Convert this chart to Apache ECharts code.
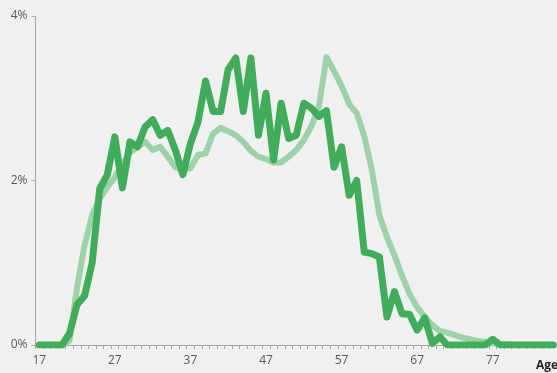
<!DOCTYPE html>
<html>
<head>
<meta charset="utf-8">
<script src="https://cdn.jsdelivr.net/npm/echarts@6/dist/echarts.min.js"></script>
<style>
  html, body { margin: 0; padding: 0; background: #f0f0f0; }
  #chart { width: 557px; height: 373px; }
</style>
</head>
<body>
<div id="chart"></div>
<script>
// Age categories 17..85
const ages = [];
for (let a = 17; a <= 85; a++) ages.push(String(a));

// Share of population by age (%), lighter reference series
const lightSeries = [
  0, 0, 0, 0, 0.05, 0.7, 1.22, 1.58, 1.78, 1.92,
  2.04, 2.2, 2.34, 2.41, 2.47, 2.37, 2.41, 2.29, 2.16, 2.13,
  2.15, 2.31, 2.33, 2.57, 2.64, 2.6, 2.55, 2.47, 2.36, 2.29,
  2.26, 2.22, 2.22, 2.29, 2.37, 2.49, 2.66, 2.9, 3.5, 3.33,
  3.15, 2.93, 2.82, 2.54, 2.13, 1.58, 1.31, 1.09, 0.84, 0.62,
  0.46, 0.34, 0.24, 0.17, 0.15, 0.12, 0.09, 0.07, 0.05, 0.04,
  0.02, 0.01, 0.01, 0, 0, 0, 0, 0, 0
];

// Share of population by age (%), darker main series
const darkSeries = [
  0, 0, 0, 0, 0.14, 0.49, 0.6, 1.0, 1.9, 2.07,
  2.53, 1.91, 2.47, 2.41, 2.65, 2.74, 2.55, 2.61, 2.37, 2.07,
  2.45, 2.71, 3.21, 2.84, 2.84, 3.35, 3.49, 2.84, 3.49, 2.55,
  3.06, 2.25, 2.94, 2.51, 2.55, 2.94, 2.88, 2.78, 2.85, 2.16,
  2.41, 1.82, 2.0, 1.13, 1.11, 1.07, 0.34, 0.65, 0.38, 0.37,
  0.18, 0.33, 0.02, 0.1, 0, 0, 0, 0, 0, 0,
  0.07, 0, 0, 0, 0, 0, 0, 0, 0
];

const yTicks = [0, 2, 4];

const chart = echarts.init(document.getElementById('chart'), null, { renderer: 'canvas' });
const labelFont = { color: '#595959', fontSize: 12, fontFamily: 'Open Sans, Liberation Sans, sans-serif' };

chart.setOption({
  backgroundColor: '#f0f0f0',
  animation: false,
  grid: { left: 35.5, top: 16, width: ages.length * 7.6, bottom: 28, containLabel: false },
  xAxis: {
    type: 'category',
    data: ages,
    boundaryGap: true,
    axisLine: { lineStyle: { color: '#a6a6a6', width: 1 } },
    axisTick: { show: true, interval: 0, length: 4, lineStyle: { color: '#a6a6a6' } },
    axisLabel: Object.assign({ interval: 9, margin: 10 }, labelFont),
    splitLine: { show: false }
  },
  yAxis: {
    type: 'value',
    min: yTicks[0],
    max: yTicks[yTicks.length - 1],
    interval: 2,
    axisLine: { show: true, lineStyle: { color: '#a6a6a6', width: 1 } },
    axisTick: { show: true, length: 4, lineStyle: { color: '#a6a6a6' } },
    axisLabel: Object.assign({ margin: 8, formatter: v => v + '%' }, labelFont),
    splitLine: { show: false }
  },
  graphic: [{
    type: 'text',
    left: 536,
    top: 360,
    style: { text: 'Age', fill: '#262626', font: 'bold 12px "Open Sans", "Liberation Sans", sans-serif' }
  }],
  series: [
    {
      type: 'line',
      data: lightSeries,
      symbol: 'none',
      lineStyle: { color: '#9dd2a9', width: 6, cap: 'round', join: 'round' },
      z: 2
    },
    {
      type: 'line',
      data: darkSeries,
      symbol: 'none',
      lineStyle: { color: '#41ad5b', width: 7, cap: 'round', join: 'round' },
      z: 3
    }
  ]
});
</script>
</body>
</html>
